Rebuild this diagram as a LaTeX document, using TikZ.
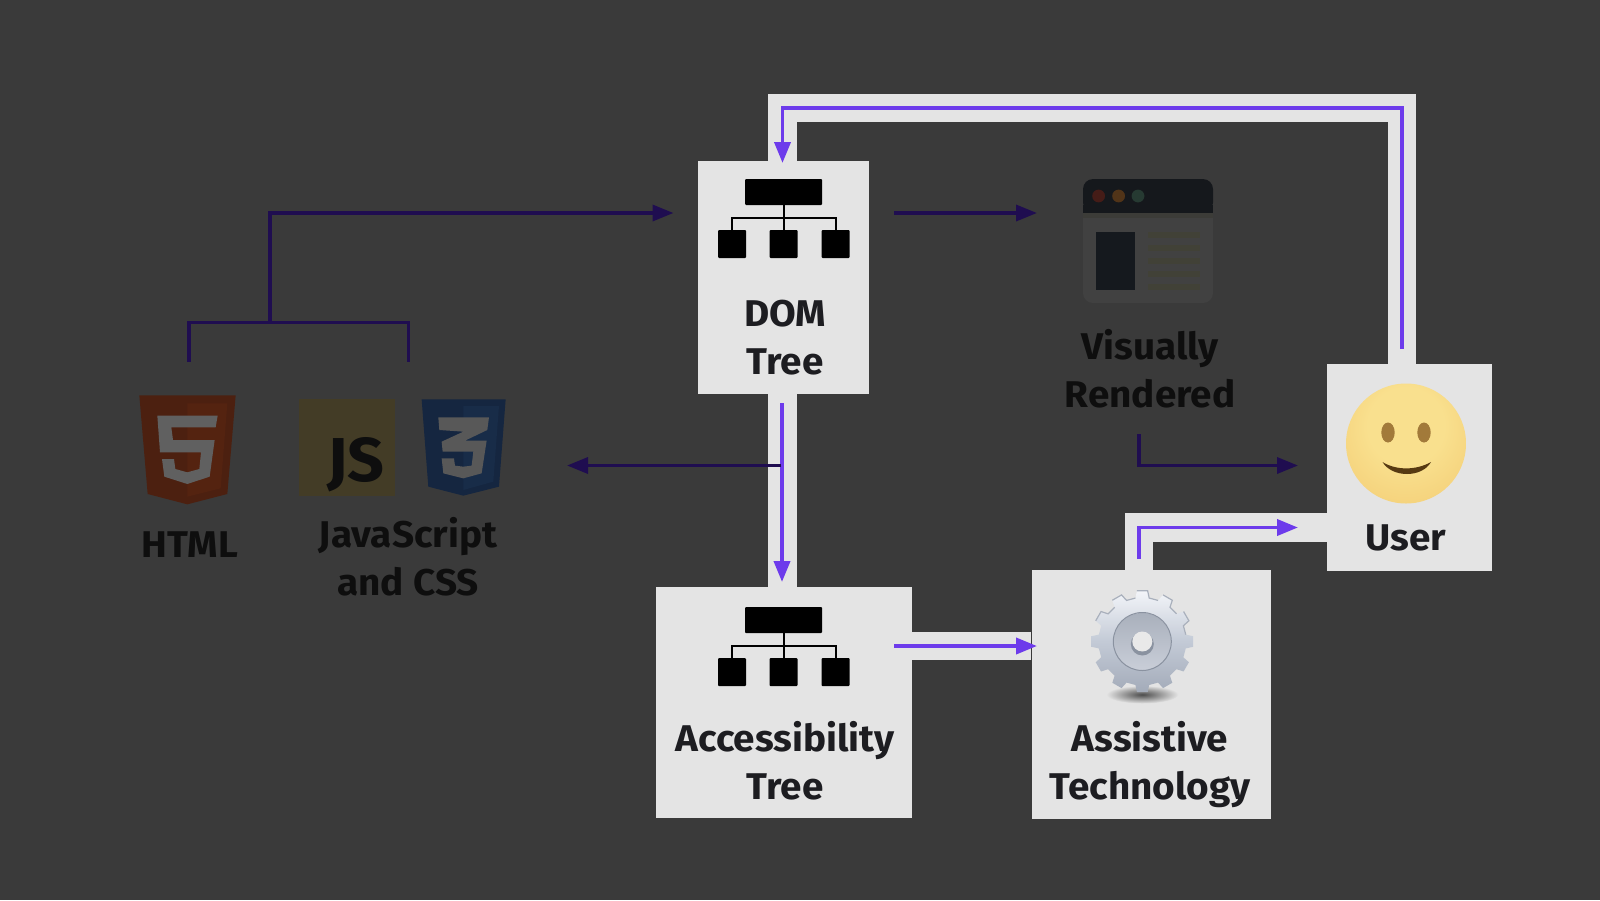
\documentclass[tikz,border=0pt]{standalone}
\usepackage{fontspec}
\setmainfont[FakeStretch=1.04]{Fira Sans}
\usetikzlibrary{arrows.meta}
\definecolor{bgc}{HTML}{3A3A3A}
\definecolor{boxc}{HTML}{E4E4E4}
\definecolor{purp}{HTML}{6D3BEB}
\definecolor{dpurp}{HTML}{1F0D50}
\definecolor{inkdim}{HTML}{0E0E0E}
\definecolor{inkbox}{HTML}{1D1D21}
\definecolor{HTMLc}{HTML}{4C2010}
\definecolor{HTMLd}{HTML}{542310}
\definecolor{HTMLw}{HTML}{606060}
\definecolor{jsc}{HTML}{433C26}
\definecolor{CSSc}{HTML}{152640}
\definecolor{CSSd}{HTML}{182C48}
\definecolor{CSSw}{HTML}{585858}
\definecolor{winb}{HTML}{414141}
\definecolor{wint}{HTML}{15181C}
\definecolor{wins}{HTML}{3C3C38}
\definecolor{dotr}{HTML}{451C17}
\definecolor{doto}{HTML}{513418}
\definecolor{dotg}{HTML}{263A32}
\definecolor{winp}{HTML}{15191E}
\definecolor{winl}{HTML}{414137}
\definecolor{smA}{HTML}{F9E08E}
\definecolor{smB}{HTML}{F3CC74}
\definecolor{smD}{HTML}{E5B564}
\definecolor{smC}{HTML}{D39F58}
\definecolor{eyec}{HTML}{A27A3A}
\definecolor{mouthc}{HTML}{573A12}
\definecolor{gearA}{HTML}{F3F5F9}
\definecolor{gearB}{HTML}{C3CAD6}
\definecolor{gearC}{HTML}{A3ABB9}
\definecolor{gearD}{HTML}{A9B0BC}
\definecolor{gearE}{HTML}{A9B0BC}
\definecolor{gearF}{HTML}{C9CED8}
\definecolor{gearH}{HTML}{8A92A0}
\definecolor{holec}{HTML}{E9E9E9}
\pgfdeclareradialshading{smileface}{\pgfpoint{0bp}{10bp}}{color(0bp)=(smA);color(16bp)=(smA);color(38bp)=(smB);color(55bp)=(smD);color(60bp)=(smC)}
\tikzset{
  panel/.style={fill=boxc,draw=none,inner sep=0pt,outer sep=0pt},
  band/.style={draw=boxc,line width=14.4pt,miter limit=10},
  act/.style={draw=purp,line width=1.9pt,-{Triangle[length=10.5pt,width=8pt]}},
  dim/.style={draw=dpurp,line width=1.7pt},
  dimarrow/.style={dim,-{Triangle[length=10.5pt,width=8pt]}},
  lab/.style={font=\bfseries\fontsize{18.6}{24}\selectfont,align=center,inner sep=0pt},
  treeblock/.style={fill=black,rounded corners=0.5pt},
  treeline/.style={draw=black,line width=1pt},
}
\newcommand{\treeicon}[1]{%
  \begin{scope}[shift={(0,#1)}]
    \fill[treeblock] (745,179) rectangle (822,205);
    \fill[treeblock] (718,230) rectangle (746,258);
    \fill[treeblock] (769.5,230) rectangle (797.5,258);
    \fill[treeblock] (821.5,230) rectangle (849.5,258);
    \draw[treeline] (732,230) -- (732,217.5) -- (835.5,217.5) -- (835.5,230);
    \draw[treeline] (783.5,205) -- (783.5,230);
  \end{scope}}
\begin{document}
\begin{tikzpicture}[x=0.5pt,y=-0.5pt]
\useasboundingbox (0,0) rectangle (1600,900);
\fill[bgc] (0,0) rectangle (1600,900);

% anchors for connectors
\coordinate (uTop) at (1402,364);
\coordinate (uTopEnd) at (1402,349);
\coordinate (nTR) at (1402,108);
\coordinate (nTL) at (782.5,108);
\coordinate (domTop) at (782.5,161);
\coordinate (domTip) at (782.5,163);
\coordinate (domBot) at (782,403);
\coordinate (domBand) at (782.5,394);
\coordinate (accBand) at (782.5,587);
\coordinate (accTip) at (782,582);
\coordinate (accR) at (912,646);
\coordinate (accS) at (894,646);
\coordinate (atL) at (1031,646);
\coordinate (atTip) at (1037,646);
\coordinate (atTop) at (1139,570);
\coordinate (atS) at (1139,559);
\coordinate (atC) at (1139,527.5);
\coordinate (uL) at (1327,527.5);
\coordinate (uTip) at (1298,527.5);
\coordinate (renS) at (1139,434);
\coordinate (renC) at (1139,465.5);
\coordinate (uTip2) at (1298,465.5);
\coordinate (brMid) at (781,465.5);
\coordinate (srcTip) at (567,465.5);
\coordinate (domS) at (894,213);
\coordinate (renTip) at (1037,213);
\coordinate (brL) at (189,362);
\coordinate (brLc) at (189,322.5);
\coordinate (brR) at (408.5,362);
\coordinate (brRc) at (408.5,322.5);
\coordinate (brT) at (270,322.5);
\coordinate (brTc) at (270,213);
\coordinate (domIn) at (673.5,213);

% light bands
\draw[band] (uTop) -- (nTR) -- (nTL) -- (domTop);
\draw[band] (domBand) -- (accBand);
\draw[band] (accR) -- (atL);
\draw[band] (atTop) -- (atC) -- (uL);

% boxes
\fill[panel] (698,161) rectangle (869,394);
\fill[panel] (656,587) rectangle (912,818);
\fill[panel] (1031.5,570) rectangle (1271,819);
\fill[panel] (1327,364) rectangle (1492,571);

% tree icons
\treeicon{0}
\treeicon{428}

% HTML logo
\begin{scope}[shift={(100,320)},x=0.5pt/3,y=-0.5pt/3]
  \fill[HTMLc] (118,226) -- (407,226) -- (382,522) -- (262,553) -- (143,522) -- cycle;
  \fill[HTMLd] (262,250) -- (382,250) -- (362,505) -- (262,530) -- cycle;
  \fill[HTMLw] (172,287) -- (353,287) -- (347,322) -- (214,322) -- (219,360) -- (344,360) -- (329,470) -- (262,492) -- (193,470) -- (186,417) -- (222,417) -- (226,447) -- (262,457) -- (298,447) -- (303,397) -- (180,397) -- cycle;
\end{scope}
% JS logo
\fill[jsc] (299,399) rectangle (395,496);
\node[inkdim,font=\bfseries\fontsize{31}{34}\selectfont,inner sep=0pt] (js) at (356,465) {JS};
% CSS logo
\begin{scope}[shift={(100,320)},x=0.5pt/3,y=-0.5pt/3]
  \fill[CSSc] (965,238) -- (1217,238) -- (1197,500) -- (1090,527) -- (985,500) -- cycle;
  \fill[CSSd] (1090,258) -- (1197,258) -- (1180,485) -- (1090,510) -- cycle;
  \fill[CSSw] (1015,292) -- (1167,292) -- (1162,330) -- (1095,362) -- (1160,362) -- (1145,460) -- (1090,475) -- (1030,460) -- (1025,415) -- (1062,415) -- (1065,437) -- (1090,440) -- (1115,437) -- (1120,395) -- (1028,395) -- (1025,365) -- (1090,335) -- (1018,330) -- cycle;
\end{scope}

% browser icon
\fill[winb,rounded corners=5pt] (1083,179) rectangle (1213,303);
\fill[wint,rounded corners=5pt] (1083,212.5) -- (1083,179) -- (1213,179) -- (1213,212.5) -- cycle;
\fill[wint] (1083,205) rectangle (1213,212.5);
\fill[wins] (1083,212.5) rectangle (1213,218);
\fill[dotr] (1098.6,196) circle (6.4);
\fill[doto] (1118.6,196) circle (6.4);
\fill[dotg] (1138,196) circle (6.4);
\fill[winp] (1096,232) rectangle (1135,290);
\foreach \yy in {235,248,261,274,287}{\fill[winl] (1148,\yy-3.3) rectangle (1200,\yy+3.3);}

% smiley
\path[shading=smileface] (1406,443.5) circle (60);
\fill[eyec] (1388,432.5) ellipse (6.7 and 10);
\fill[eyec] (1424,432.5) ellipse (6.7 and 10);
\fill[mouthc] (1382.5,462) .. controls (1396,470.5) and (1416,470.5) .. (1431,462) .. controls (1422,478) and (1392,478) .. (1382.5,462) -- cycle;

% gear
\begin{scope}[shift={(1142.3,641.5)}]
  \shade[inner color=black!70,outer color=boxc] (0,53) ellipse (36 and 9);
  \shade[top color=gearA,bottom color=gearC,middle color=gearB]
    (-96:51)
    \foreach \a in {-90,-60,...,240}{
      -- (\a-6:51) -- (\a+6:51) -- (\a+9:44) -- (\a+21:44)
    } -- cycle;
  \foreach \a in {-150,-120,-90,-60,-30}{\draw[gearE,line width=0.6pt] (\a-6:51) -- (\a+6:51) -- (\a+9:44) -- (\a+21:44);}
  \shade[top color=gearD,bottom color=gearF] (0,0) circle (28.6);
  \draw[gearH,line width=0.5pt] (0,0) circle (29);
  \fill[gearH] (0,2.5) circle (11.5);
  \fill[holec] (0,0) circle (10);
\end{scope}

% connectors
\draw[act] (uTopEnd) -- (nTR) -- (nTL) -- (domTip);
\draw[act] (domBot) -- (accTip);
\draw[act] (accS) -- (atTip);
\draw[act] (atS) -- (atC) -- (uTip);
\draw[dimarrow] (renS) -- (renC) -- (uTip2);
\draw[dimarrow] (brMid) -- (srcTip);
\draw[dimarrow] (domS) -- (renTip);
\draw[dim] (brL) -- (brLc) -- (brRc) -- (brR);
\draw[dimarrow] (brT) -- (brTc) -- (domIn);

% labels
\node[lab,inkbox] (lDom) at (785,337.5) {DOM\\Tree};
\node[lab,inkbox] (lAcc) at (785,761) {Accessibility\\Tree};
\node[lab,inkbox] (lAt) at (1150,765) {Assistive\\Technology};
\node[lab,inkbox] (lUser) at (1406,538) {User};
\node[lab,inkdim] (lRen) at (1150,368.5) {Visually\\Rendered};
\node[lab,inkdim] (lHtml) at (190,545) {HTML};
\node[lab,inkdim] (lJs) at (408,557) {JavaScript\\and CSS};
\end{tikzpicture}
\end{document}
